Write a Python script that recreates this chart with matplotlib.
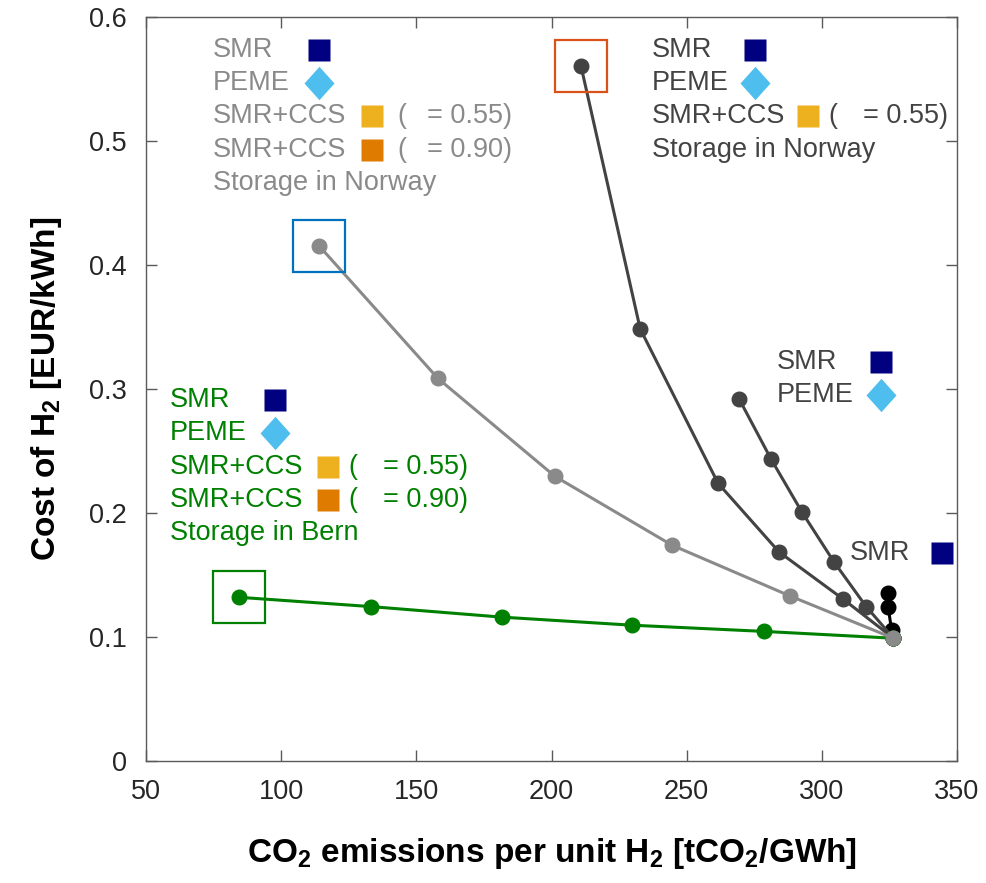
import matplotlib
matplotlib.use("Agg")
import matplotlib.pyplot as plt

# data: CO2 emissions [tCO2/GWh] vs cost [EUR/kWh]
bern_x = [84.5, 133.2, 181.7, 229.8, 278.6, 326.5]
bern_y = [0.132, 0.1245, 0.116, 0.1095, 0.1045, 0.099]

nor90_x = [114.0, 158.0, 201.3, 244.6, 288.3, 326.5]
nor90_y = [0.4155, 0.3085, 0.2295, 0.174, 0.133, 0.099]

nor55_x = [210.9, 232.8, 261.6, 284.2, 307.9, 326.5]
nor55_y = [0.5605, 0.3485, 0.224, 0.1685, 0.1305, 0.099]

peme_x = [269.4, 281.2, 292.7, 304.5, 316.4, 326.5]
peme_y = [0.292, 0.2435, 0.2005, 0.1605, 0.1245, 0.099]

smr_x = [324.5, 324.5, 325.8, 326.5]
smr_y = [0.1355, 0.1245, 0.1055, 0.099]

xticks = [50, 100, 150, 200, 250, 300, 350]
yticks = [0, 0.1, 0.2, 0.3, 0.4, 0.5, 0.6]

GREEN = "#008000"
LGRAY = "#8a8a8a"
DGRAY = "#434343"
NAVY = "#000080"
LBLUE = "#4DBEEE"
YELLOW = "#EDB120"
ORANGE = "#DF7C00"

plt.rcParams["font.family"] = ["Liberation Sans", "DejaVu Sans"]
plt.rcParams["mathtext.fontset"] = "custom"
plt.rcParams["mathtext.rm"] = "Liberation Sans:bold"
plt.rcParams["mathtext.default"] = "rm"

fig = plt.figure(figsize=(9.86, 8.83), dpi=100)
ax = fig.add_axes([0.1481, 0.1382, 0.8225, 0.8425])

lw = 2.2
ms = 10.5
ax.plot(smr_x, smr_y, "-o", color="black", lw=lw, ms=ms, zorder=2)
ax.plot(peme_x, peme_y, "-o", color=DGRAY, lw=lw, ms=ms, zorder=3)
ax.plot(nor55_x, nor55_y, "-o", color=DGRAY, lw=lw, ms=ms, zorder=3)
ax.plot(bern_x, bern_y, "-o", color=GREEN, lw=lw, ms=ms, zorder=4)
ax.plot(nor90_x, nor90_y, "-o", color=LGRAY, lw=lw, ms=ms, zorder=5)

# highlight boxes around the lowest-emission end of each chain
for xs, ys, c in [(bern_x, bern_y, GREEN), (nor90_x, nor90_y, "#0072BD"),
                  (nor55_x, nor55_y, "#D95319")]:
    ax.plot(xs[0], ys[0], "s", ms=37, mfc="none", mec=c, mew=1.6, zorder=6)

ax.set_xlim(50, 350)
ax.set_ylim(0, 0.6)
ax.set_xticks(xticks)
ax.set_yticks(yticks)
ax.set_xticklabels([str(t) for t in xticks])
ax.set_yticklabels(["0", "0.1", "0.2", "0.3", "0.4", "0.5", "0.6"])
ax.tick_params(direction="in", length=8, width=1, color="#5a5a5a",
               top=True, right=True, labelsize=19.5, labelcolor="#262626")
ax.tick_params(axis="x", pad=13)
ax.tick_params(axis="y", pad=14)
for s in ax.spines.values():
    s.set_color("#5a5a5a")
    s.set_linewidth(1)

ax.set_xlabel(r"CO$_2$ emissions per unit H$_2$ [tCO$_2$/GWh]",
              weight="bold", fontsize=24, labelpad=22)
ax.set_ylabel(r"Cost of H$_2$ [EUR/kWh]", weight="bold", fontsize=24,
              labelpad=18)

# annotation blocks: text rows with small key markers
fs = 19.5
step = 0.0268
diamond = [(0, 1), (0.9, 0), (0, -1), (-0.9, 0), (0, 1)]


def key(x, y, marker, color, size):
    ax.plot(x, y, marker=marker, color=color, ms=size, mec="none",
            ls="none", clip_on=False, zorder=7)


def block(x0, y0, color, xsq, xyel, xpar, xeq, rows, last):
    ax.text(x0, y0, "SMR", color=color, fontsize=fs, va="center")
    key(xsq, y0, "s", NAVY, 16.5)
    y = y0 - step
    if rows >= 1:
        ax.text(x0, y, "PEME", color=color, fontsize=fs, va="center")
        key(xsq, y, diamond, LBLUE, 24)
        y -= step
    for i, (col, eta) in enumerate([(YELLOW, "0.55"), (ORANGE, "0.90")]):
        if i >= rows - 1:
            break
        ax.text(x0, y, "SMR+CCS", color=color, fontsize=fs, va="center")
        key(xyel, y, "s", col, 16)
        ax.text(xpar, y, "(", color=color, fontsize=fs, va="center")
        ax.text(xeq, y, "= " + eta + ")", color=color, fontsize=fs, va="center")
        y -= step
    if last:
        ax.text(x0, y, last, color=color, fontsize=fs, va="center")


block(74.8, 0.5734, LGRAY, 114.0, 133.6, 142.9, 154.0, 3, "Storage in Norway")
block(237.2, 0.5734, DGRAY, 275.3, 294.9, 302.3, 315.3, 2, "Storage in Norway")
block(58.9, 0.291, GREEN, 97.7, 117.3, 124.7, 137.7, 3, "Storage in Bern")
block(283.4, 0.3218, DGRAY, 321.9, 0, 0, 0, 1, None)
block(310.4, 0.1677, DGRAY, 344.5, 0, 0, 0, 0, None)

fig.savefig("out.png", dpi=100)
